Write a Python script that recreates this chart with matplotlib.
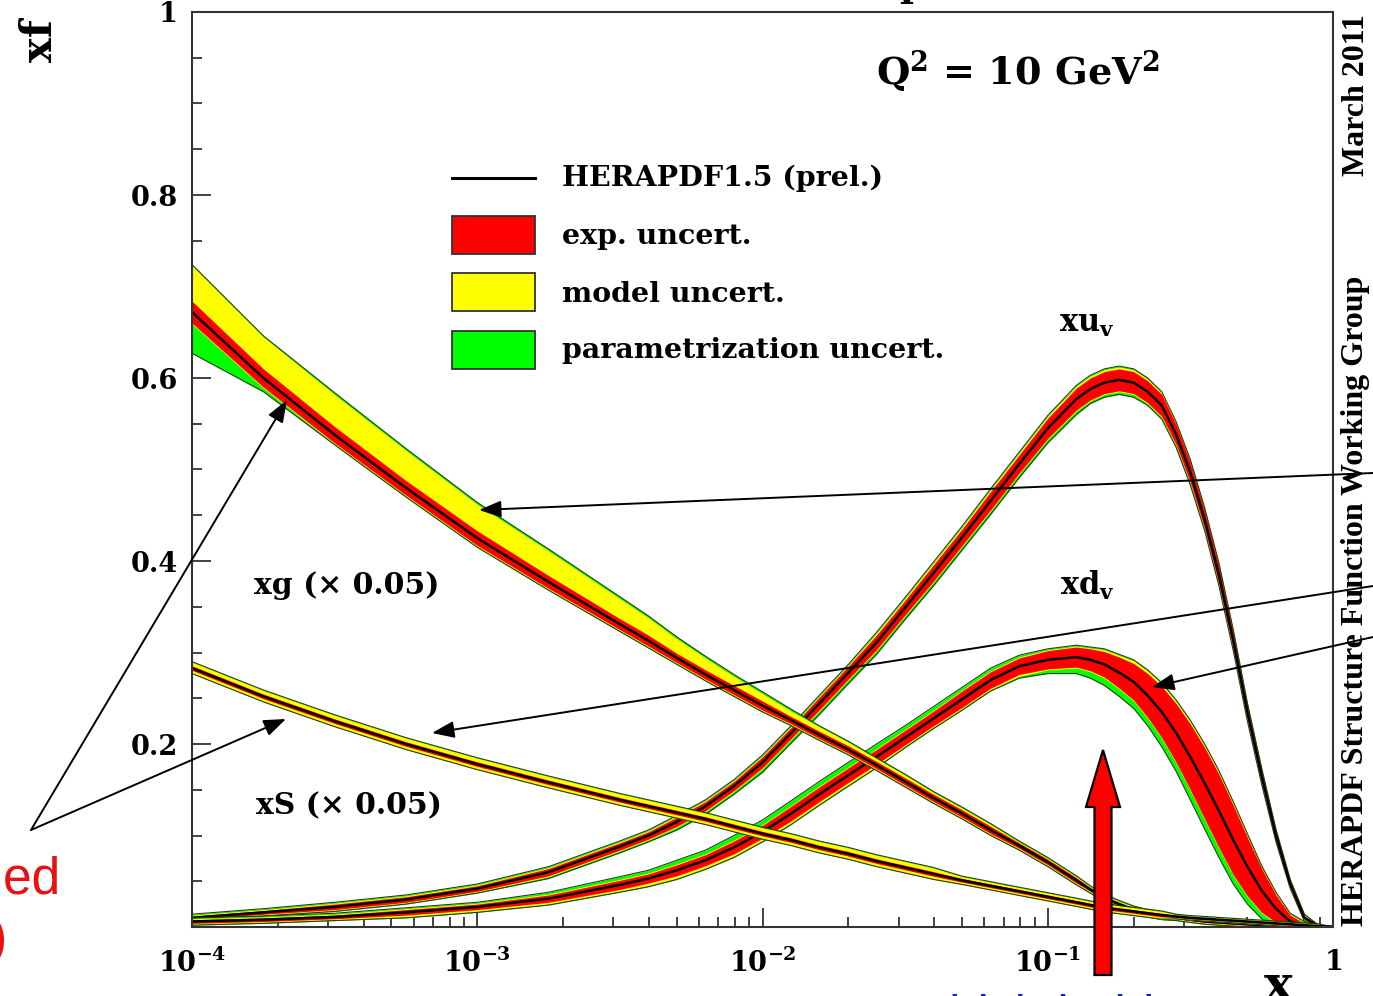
import numpy as np
import matplotlib
matplotlib.use("Agg")
import matplotlib.pyplot as plt
from matplotlib.patches import Rectangle, FancyArrow, FancyArrowPatch
from matplotlib.lines import Line2D
from matplotlib.ticker import FixedLocator, NullFormatter, LogLocator, MultipleLocator

plt.rcParams['mathtext.fontset'] = 'custom'
plt.rcParams['mathtext.rm'] = 'DejaVu Serif:bold'
plt.rcParams['mathtext.bf'] = 'DejaVu Serif:bold'
plt.rcParams['mathtext.it'] = 'DejaVu Serif:bold'

# ---------------- data ----------------
x = [1.0e-4, 1.78e-4, 3.16e-4, 5.62e-4, 1.0e-3, 1.78e-3, 3.16e-3,
     3.98e-3, 5.01e-3, 6.31e-3, 7.94e-3, 1.0e-2, 1.26e-2, 1.58e-2, 2.0e-2,
     2.51e-2, 3.16e-2, 3.98e-2, 5.01e-2, 6.31e-2, 7.94e-2, 0.100, 0.126,
     0.141, 0.158, 0.178, 0.200, 0.224, 0.251,
     0.282, 0.316, 0.355, 0.398, 0.447, 0.501, 0.562, 0.631, 0.708, 0.794, 0.891, 1.0]

# gluon (x 0.05)
xg_c = [0.672, 0.600, 0.538, 0.480, 0.425, 0.377, 0.331,
        0.313, 0.294, 0.276, 0.259, 0.242, 0.226, 0.210, 0.194,
        0.177, 0.159, 0.141, 0.124, 0.106, 0.089, 0.071, 0.051,
        0.041, 0.032, 0.025, 0.019, 0.015, 0.012,
        0.010, 0.008, 0.006, 0.005, 0.004, 0.003, 0.002, 0.001, 0.0005, 0.0, 0.0, 0.0]
xg_exp = [0.012, 0.010, 0.009, 0.008, 0.008, 0.007, 0.006,
          0.006, 0.005, 0.005, 0.005, 0.005, 0.004, 0.004, 0.004,
          0.004, 0.004, 0.004, 0.004, 0.004, 0.003, 0.003, 0.003,
          0.002, 0.002, 0.002, 0.002, 0.002, 0.002,
          0.001, 0.001, 0.001, 0.001, 0.001, 0.001, 0.001, 0.001, 0.0, 0.0, 0.0, 0.0]
xg_mod_up = [0.039, 0.035, 0.035, 0.033, 0.029, 0.027, 0.022,
             0.019, 0.016, 0.013, 0.010, 0.008, 0.006, 0.005, 0.004,
             0.003, 0.003, 0.002, 0.002, 0.002, 0.001, 0.001, 0.001,
             0.001, 0.001, 0.001, 0.001, 0.001, 0.001,
             0.001, 0.001, 0.0, 0.0, 0.0, 0.0, 0.0, 0.0, 0.0, 0.0, 0.0, 0.0]
xg_mod_dn = [0.001, 0.001, 0.001, 0.001, 0.001, 0.001, 0.001,
             0.001, 0.001, 0.001, 0.001, 0.001, 0.001, 0.001, 0.001,
             0.001, 0.001, 0.001, 0.001, 0.001, 0.001, 0.001, 0.001,
             0.001, 0.001, 0.001, 0.001, 0.001, 0.001,
             0.001, 0.001, 0.001, 0.001, 0.001, 0.001, 0.001, 0.001, 0.0, 0.0, 0.0, 0.0]
xg_par_up = [0.001, 0.001, 0.002, 0.002, 0.002, 0.002, 0.002,
             0.002, 0.002, 0.002, 0.002, 0.002, 0.002, 0.001, 0.001,
             0.001, 0.001, 0.001, 0.001, 0.001, 0.001, 0.001, 0.001,
             0.001, 0.001, 0.001, 0.001, 0.001, 0.001,
             0.001, 0.001, 0.001, 0.001, 0.001, 0.001, 0.001, 0.001, 0.0, 0.0, 0.0, 0.0]
xg_par_dn = [0.032, 0.004, 0.001, 0.001, 0.001, 0.001, 0.001,
             0.001, 0.001, 0.001, 0.001, 0.001, 0.001, 0.001, 0.001,
             0.001, 0.001, 0.001, 0.001, 0.001, 0.001, 0.001, 0.001,
             0.001, 0.001, 0.001, 0.001, 0.001, 0.001,
             0.001, 0.001, 0.001, 0.001, 0.001, 0.001, 0.001, 0.001, 0.0, 0.0, 0.0, 0.0]

# sea (x 0.05)
xS_c = [0.283, 0.252, 0.225, 0.200, 0.178, 0.158, 0.139,
        0.132, 0.125, 0.118, 0.110, 0.102, 0.095, 0.087, 0.080,
        0.072, 0.065, 0.058, 0.051, 0.045, 0.039, 0.033, 0.027,
        0.024, 0.021, 0.019, 0.017, 0.015, 0.013,
        0.0115, 0.010, 0.009, 0.008, 0.007, 0.006, 0.005, 0.004, 0.003, 0.002, 0.001, 0.0]
xS_exp = [0.0025, 0.0025, 0.0025, 0.0025, 0.0025, 0.0025, 0.0025,
          0.0025, 0.0025, 0.0025, 0.0025, 0.0025, 0.0025, 0.0025, 0.0025,
          0.0025, 0.0025, 0.0025, 0.002, 0.002, 0.002, 0.002, 0.002,
          0.002, 0.002, 0.002, 0.002, 0.002, 0.002,
          0.001, 0.001, 0.001, 0.001, 0.001, 0.001, 0.001, 0.001, 0.001, 0.001, 0.001, 0.0]
xS_mod_up = [0.004, 0.004, 0.004, 0.004, 0.004, 0.004, 0.004,
             0.004, 0.004, 0.004, 0.004, 0.004, 0.004, 0.004, 0.004,
             0.004, 0.004, 0.004, 0.002, 0.002, 0.002, 0.002, 0.002,
             0.002, 0.002, 0.002, 0.002, 0.002, 0.002,
             0.001, 0.001, 0.001, 0.001, 0.001, 0.001, 0.001, 0.001, 0.001, 0.001, 0.001, 0.0]
xS_mod_dn = [0.003, 0.003, 0.003, 0.003, 0.003, 0.003, 0.003,
             0.003, 0.003, 0.003, 0.003, 0.003, 0.003, 0.003, 0.003,
             0.003, 0.003, 0.003, 0.002, 0.002, 0.002, 0.002, 0.002,
             0.002, 0.002, 0.002, 0.002, 0.002, 0.002,
             0.001, 0.001, 0.001, 0.001, 0.001, 0.001, 0.001, 0.001, 0.001, 0.001, 0.001, 0.0]
xS_par = [0.0005, 0.0005, 0.0005, 0.0005, 0.0005, 0.0005, 0.0005,
          0.0005, 0.0005, 0.0005, 0.0005, 0.0005, 0.0005, 0.0005, 0.0005,
          0.0005, 0.0005, 0.0005, 0.0005, 0.0005, 0.0005, 0.0005, 0.0005,
          0.0005, 0.0005, 0.0005, 0.0005, 0.0005, 0.0005,
          0.0005, 0.0005, 0.0005, 0.0005, 0.0005, 0.0005, 0.0005, 0.0005, 0.0005, 0.0005, 0.0005, 0.0]

# u valence
xuv_c = [0.010, 0.016, 0.022, 0.030, 0.042, 0.060, 0.088,
         0.100, 0.115, 0.132, 0.154, 0.180, 0.212, 0.244, 0.278,
         0.311, 0.349, 0.387, 0.426, 0.466, 0.506, 0.545, 0.577,
         0.588, 0.595, 0.598, 0.595, 0.585, 0.570,
         0.538, 0.497, 0.445, 0.385, 0.313, 0.235, 0.165, 0.100, 0.047, 0.010, 0.001, 0.0]
xuv_exp = [0.002, 0.002, 0.003, 0.003, 0.003, 0.004, 0.004,
           0.004, 0.005, 0.005, 0.005, 0.006, 0.006, 0.007, 0.007,
           0.008, 0.008, 0.009, 0.009, 0.010, 0.010, 0.011, 0.012,
           0.012, 0.012, 0.012, 0.012, 0.012, 0.012,
           0.011, 0.011, 0.010, 0.010, 0.009, 0.008, 0.007, 0.005, 0.003, 0.002, 0.001, 0.0]
xuv_mod_up = [0.001, 0.001, 0.001, 0.001, 0.001, 0.001, 0.001,
              0.001, 0.001, 0.001, 0.001, 0.001, 0.001, 0.001, 0.001,
              0.002, 0.002, 0.002, 0.002, 0.002, 0.002, 0.002, 0.002,
              0.002, 0.002, 0.002, 0.002, 0.002, 0.002,
              0.002, 0.002, 0.002, 0.002, 0.002, 0.001, 0.001, 0.001, 0.001, 0.001, 0.0, 0.0]
xuv_mod_dn = [0.001, 0.001, 0.001, 0.001, 0.001, 0.001, 0.001,
              0.001, 0.001, 0.001, 0.001, 0.001, 0.001, 0.001, 0.001,
              0.001, 0.001, 0.001, 0.001, 0.001, 0.001, 0.001, 0.001,
              0.001, 0.001, 0.001, 0.001, 0.001, 0.001,
              0.001, 0.001, 0.001, 0.001, 0.001, 0.001, 0.001, 0.001, 0.001, 0.001, 0.0, 0.0]
xuv_par_up = [0.001, 0.001, 0.001, 0.001, 0.001, 0.001, 0.001,
              0.001, 0.001, 0.001, 0.001, 0.001, 0.001, 0.001, 0.001,
              0.001, 0.001, 0.001, 0.001, 0.001, 0.001, 0.001, 0.001,
              0.001, 0.001, 0.001, 0.001, 0.001, 0.001,
              0.001, 0.001, 0.001, 0.001, 0.001, 0.001, 0.001, 0.001, 0.001, 0.001, 0.0, 0.0]
xuv_par_dn = [0.001, 0.001, 0.001, 0.001, 0.001, 0.002, 0.002,
              0.002, 0.003, 0.003, 0.003, 0.004, 0.004, 0.004, 0.004,
              0.004, 0.004, 0.004, 0.004, 0.004, 0.004, 0.004, 0.004,
              0.003, 0.003, 0.003, 0.003, 0.002, 0.002,
              0.002, 0.002, 0.001, 0.001, 0.001, 0.001, 0.001, 0.001, 0.001, 0.001, 0.0, 0.0]

# d valence
xdv_c = [0.006, 0.008, 0.011, 0.016, 0.022, 0.031, 0.046,
         0.053, 0.062, 0.073, 0.087, 0.104, 0.124, 0.145, 0.166,
         0.186, 0.207, 0.228, 0.249, 0.270, 0.285, 0.292, 0.295,
         0.292, 0.287, 0.278, 0.268, 0.253, 0.235,
         0.212, 0.186, 0.157, 0.127, 0.095, 0.066, 0.040, 0.020, 0.006, 0.001, 0.0, 0.0]
xdv_exp = [0.002, 0.002, 0.002, 0.003, 0.003, 0.004, 0.005,
           0.005, 0.006, 0.006, 0.007, 0.007, 0.008, 0.008, 0.008,
           0.008, 0.008, 0.008, 0.009, 0.009, 0.009, 0.010, 0.011,
           0.012, 0.014, 0.017, 0.020, 0.024, 0.028,
           0.032, 0.036, 0.039, 0.040, 0.038, 0.032, 0.024, 0.015, 0.007, 0.003, 0.001, 0.0]
xdv_mod_up = [0.001, 0.001, 0.001, 0.001, 0.001, 0.001, 0.001,
              0.001, 0.001, 0.001, 0.001, 0.001, 0.001, 0.001, 0.001,
              0.001, 0.001, 0.001, 0.001, 0.001, 0.001, 0.001, 0.001,
              0.001, 0.002, 0.002, 0.003, 0.003, 0.003,
              0.003, 0.003, 0.003, 0.003, 0.003, 0.003, 0.002, 0.002, 0.001, 0.001, 0.0, 0.0]
xdv_mod_dn = [0.001, 0.001, 0.001, 0.002, 0.002, 0.002, 0.002,
              0.003, 0.003, 0.003, 0.003, 0.003, 0.003, 0.003, 0.003,
              0.003, 0.002, 0.002, 0.002, 0.002, 0.002, 0.001, 0.001,
              0.001, 0.001, 0.001, 0.001, 0.001, 0.001,
              0.001, 0.001, 0.001, 0.001, 0.001, 0.001, 0.001, 0.001, 0.001, 0.001, 0.0, 0.0]
xdv_par_up = [0.001, 0.001, 0.001, 0.001, 0.001, 0.002, 0.003,
              0.003, 0.004, 0.004, 0.005, 0.005, 0.005, 0.005, 0.005,
              0.005, 0.004, 0.004, 0.003, 0.003, 0.002, 0.001, 0.001,
              0.001, 0.001, 0.001, 0.001, 0.001, 0.001,
              0.001, 0.001, 0.001, 0.001, 0.001, 0.001, 0.001, 0.001, 0.001, 0.001, 0.0, 0.0]
xdv_par_dn = [0.001, 0.001, 0.001, 0.001, 0.001, 0.001, 0.001,
              0.001, 0.001, 0.001, 0.001, 0.001, 0.001, 0.001, 0.001,
              0.001, 0.001, 0.001, 0.001, 0.001, 0.002, 0.004, 0.006,
              0.007, 0.008, 0.008, 0.008, 0.008, 0.009,
              0.009, 0.010, 0.010, 0.010, 0.009, 0.008, 0.006, 0.004, 0.002, 0.001, 0.0, 0.0]

y_ticks = [0.2, 0.4, 0.6, 0.8, 1.0]
y_ticklabels = ['0.2', '0.4', '0.6', '0.8', '1']
x_ticks = [1e-4, 1e-3, 1e-2, 1e-1, 1.0]
x_ticklabels = [r'$10^{-4}$', r'$10^{-3}$', r'$10^{-2}$', r'$10^{-1}$', r'$1$']

legend_labels = ['HERAPDF1.5 (prel.)', 'exp. uncert.', 'model uncert.', 'parametrization uncert.']
band_colors = ['#ff0000', '#ffff00', '#00ff00']

# ---------------- figure ----------------
W, H = 1373, 996
fig = plt.figure(figsize=(W / 100, H / 100), dpi=100)
fig.patch.set_facecolor('white')


def fx(px):
    return px / W


def fy(py):
    return 1 - py / H


ax = fig.add_axes([fx(192), fy(927), (1333 - 192) / W, (927 - 12) / H])
ax.set_xscale('log')
ax.set_xlim(1e-4, 1.0)
ax.set_ylim(0, 1)

xv = np.array(x)


def band(c, e, mu, md, pu, pd, z):
    c = np.array(c); e = np.array(e)
    mu = np.array(mu); md = np.array(md); pu = np.array(pu); pd = np.array(pd)
    tot_hi = c + e + mu + pu
    tot_lo = np.clip(c - e - md - pd, 0, None)
    mod_hi = c + e + mu
    mod_lo = np.clip(c - e - md, 0, None)
    ex_hi = c + e
    ex_lo = np.clip(c - e, 0, None)
    ax.fill_between(xv, tot_lo, tot_hi, color=band_colors[2], lw=0, zorder=z)
    ax.fill_between(xv, mod_lo, mod_hi, color=band_colors[1], lw=0, zorder=z + 0.01)
    ax.fill_between(xv, ex_lo, ex_hi, color=band_colors[0], lw=0, zorder=z + 0.02)
    ax.plot(xv, tot_hi, color='#2b3a1c', lw=0.8, zorder=z + 0.03)
    ax.plot(xv, tot_lo, color='#2b3a1c', lw=0.8, zorder=z + 0.03)
    ax.plot(xv, c, color='black', lw=1.8, zorder=z + 0.04)


band(xuv_c, xuv_exp, xuv_mod_up, xuv_mod_dn, xuv_par_up, xuv_par_dn, 2)
band(xdv_c, xdv_exp, xdv_mod_up, xdv_mod_dn, xdv_par_up, xdv_par_dn, 2.1)
band(xg_c, xg_exp, xg_mod_up, xg_mod_dn, xg_par_up, xg_par_dn, 2.2)
band(xS_c, xS_exp, xS_mod_up, xS_mod_dn, xS_par, xS_par, 2.3)

# axes styling
for side in ['left', 'right', 'top', 'bottom']:
    ax.spines[side].set_color('#333333')
    ax.spines[side].set_linewidth(1.5)
    ax.spines[side].set_zorder(5)

ax.xaxis.set_major_locator(FixedLocator(x_ticks))
ax.xaxis.set_minor_locator(LogLocator(base=10, subs=np.arange(2, 10), numticks=20))
ax.xaxis.set_minor_formatter(NullFormatter())
ax.set_xticklabels(x_ticklabels)
ax.yaxis.set_major_locator(FixedLocator(y_ticks))
ax.set_yticklabels(y_ticklabels)
ax.yaxis.set_minor_locator(MultipleLocator(0.05))

ax.tick_params(axis='both', which='major', direction='in', length=14, width=1.3,
               color='#333333', top=False, right=False)
ax.tick_params(axis='both', which='minor', direction='in', length=7, width=1.3,
               color='#333333', top=False, right=False)
ax.tick_params(axis='y', which='major', pad=10)
ax.tick_params(axis='x', which='major', pad=16)
for lab in ax.get_yticklabels() + ax.get_xticklabels():
    lab.set_fontfamily('DejaVu Serif')
    lab.set_fontweight('bold')
    lab.set_fontsize(19.5)

serif = dict(family='DejaVu Serif', weight='bold', color='black')

# axis titles
fig.text(fx(40), fy(41), 'xf', rotation=90, ha='center', va='center', fontsize=30, **serif)
fig.text(fx(1278), fy(1000), 'x', ha='center', va='baseline', fontsize=35, **serif)

# Q^2 label
fig.text(fx(1018), fy(85), r'Q$^{2}$ = 10 GeV$^{2}$', ha='center', va='baseline', fontsize=27.5, **serif)

# legend (manual, ROOT style)
fig.add_artist(Line2D([fx(452), fx(535)], [fy(178), fy(178)], color='black', lw=2.2,
                      transform=fig.transFigure))
box_tops = [216, 273, 331]
for i, top in enumerate(box_tops):
    fig.add_artist(Rectangle((fx(452), fy(top + 38)), (535 - 452) / W, 38 / H,
                             facecolor=band_colors[i], edgecolor='#333333', lw=1.3,
                             transform=fig.transFigure))
legend_y = [178, 236, 294, 350]
for lab, yy in zip(legend_labels, legend_y):
    fig.text(fx(562), fy(yy), lab, ha='left', va='center', fontsize=20.5, **serif)

# curve labels
fig.text(fx(1087), fy(323), r'xu$_{v}$', ha='center', va='center', fontsize=22, **serif)
fig.text(fx(1087), fy(585), r'xd$_{v}$', ha='center', va='center', fontsize=22, **serif)
fig.text(fx(347), fy(585), 'xg (\u00d7 0.05)', ha='center', va='center', fontsize=21.5, **serif)
fig.text(fx(349), fy(806), 'xS (\u00d7 0.05)', ha='center', va='center', fontsize=21.5, **serif)

# right-hand vertical labels
rot = dict(family='Liberation Serif', weight='bold', color='black', fontsize=23, rotation=90)
fig.text(fx(1356), fy(926), 'HERAPDF Structure Function Working Group', ha='center', va='bottom', **rot)
fig.text(fx(1356), fy(14), 'March 2011', ha='center', va='top', **rot)

# clipped fragment of a title at the very top
fig.text(fx(912), fy(-4), 'p', ha='center', va='baseline', fontsize=27, **serif)

# black annotation arrows (figure pixels)
arrows = [((31, 830), (287, 400)), ((31, 830), (286, 719)),
          ((1373, 473), (479, 510)), ((1373, 586), (432, 733)), ((1373, 637), (1152, 687))]
for (x0, y0), (x1, y1) in arrows:
    fig.add_artist(FancyArrowPatch((fx(x0), fy(y0)), (fx(x1), fy(y1)),
                                   transform=fig.transFigure,
                                   arrowstyle='-|>,head_length=0.45,head_width=0.17',
                                   mutation_scale=30, lw=1.4, color='black',
                                   shrinkA=0, shrinkB=0, zorder=6))

# red fat arrow
fig.add_artist(FancyArrow(fx(1103), fy(975), 0, fy(750) - fy(975), width=17 / W,
                          head_width=34 / W, head_length=(807 - 750) / H,
                          length_includes_head=True, facecolor='#ff0000', edgecolor='black',
                          lw=1.6, transform=fig.transFigure, zorder=7))

# red slide text (clipped at left edge)
red = dict(family='Liberation Sans', color='#e81010', fontsize=37)
fig.text(fx(61), fy(893), 'constrained', ha='right', va='baseline', **red)
fig.text(fx(7), fy(954), '(at low x)', ha='right', va='baseline', **red)
# blue slide text (clipped at bottom edge)
fig.text(fx(912), fy(994), 'which holds', ha='left', va='top',
         family='Liberation Sans', color='#2020c0', fontsize=37)

fig.savefig('out.png', dpi=100)
